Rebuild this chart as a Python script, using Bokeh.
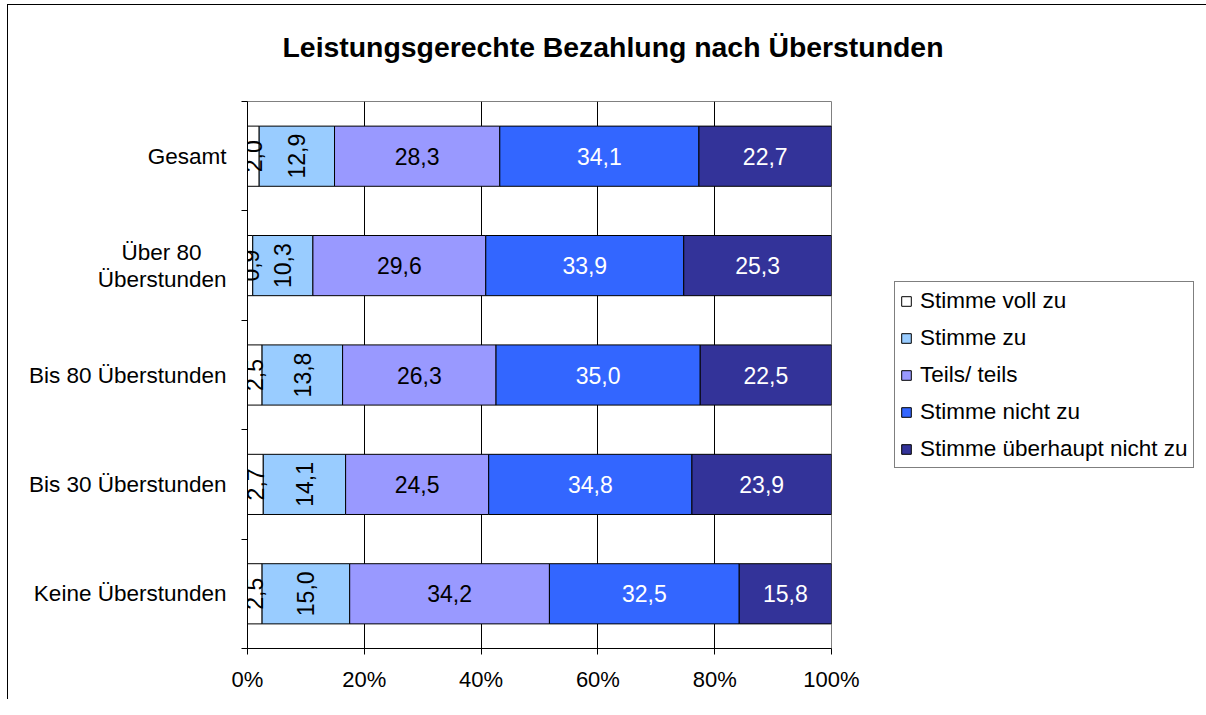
import math
from bokeh.plotting import figure
from bokeh.models import ColumnDataSource, Range1d, FixedTicker, Legend, LegendItem, Title
from bokeh.core.properties import value
from bokeh.embed import file_html
from bokeh.resources import INLINE

# ---------------- data ----------------
title_text = "Leistungsgerechte Bezahlung nach Überstunden"
categories = ["Gesamt", "Über 80\u00a0\u00a0\u00a0\u00a0\nÜberstunden", "Bis 80 Überstunden",
              "Bis 30 Überstunden", "Keine Überstunden"]
series = ["Stimme voll zu", "Stimme zu", "Teils/ teils",
          "Stimme nicht zu", "Stimme überhaupt nicht zu"]
stimme_voll_zu = [2.0, 0.9, 2.5, 2.7, 2.5]
stimme_zu = [12.9, 10.3, 13.8, 14.1, 15.0]
teils_teils = [28.3, 29.6, 26.3, 24.5, 34.2]
stimme_nicht_zu = [34.1, 33.9, 35.0, 34.8, 32.5]
stimme_ueberhaupt_nicht_zu = [22.7, 25.3, 22.5, 23.9, 15.8]
x_ticks = [0, 20, 40, 60, 80, 100]
x_tick_labels = ["0%", "20%", "40%", "60%", "80%", "100%"]

# ---------------- styles ----------------
colors = ["#FFFFFF", "#99CCFF", "#9999FF", "#3366FF", "#333399"]
label_colors = ["black", "black", "black", "white", "white"]
rotated = [True, True, False, False, False]
FONT = "Liberation Sans"
FS = "23px"

values = [stimme_voll_zu, stimme_zu, teils_teils, stimme_nicht_zu, stimme_ueberhaupt_nicht_zu]
n = len(categories)
ypos = [n - i - 0.5 for i in range(n)]
totals = [sum(v[i] for v in values) for i in range(n)]

data = {"y": ypos}
run = [0.0] * n
for j, vals in enumerate(values):
    left = [run[i] for i in range(n)]
    right = [run[i] + vals[i] / totals[i] * 100 for i in range(n)]
    data[f"l{j}"] = left
    data[f"r{j}"] = right
    data[f"c{j}"] = [(a + b) / 2 for a, b in zip(left, right)]
    data[f"t{j}"] = [f"{v:.1f}".replace(".", ",") for v in vals]
    run = right
src = ColumnDataSource(data)

p = figure(frame_width=584, frame_height=547,
           x_range=Range1d(0, 100), y_range=Range1d(0, n),
           output_backend="svg", toolbar_location=None,
           min_border_left=247, min_border_right=359,
           min_border_top=0, min_border_bottom=51)
p.styles = {
    "background-image": "linear-gradient(#000, #000), linear-gradient(#000, #000)",
    "background-size": "1px 2000px, 2000px 1px",
    "background-position": "left 7px top 4px, left 7px top 4px",
    "background-repeat": "no-repeat, no-repeat",
}
p.background_fill_color = "white"
p.border_fill_alpha = 0.0
p.outline_line_color = "#808080"
p.outline_line_width = 1

# grid
p.xgrid.ticker = FixedTicker(ticks=[20, 40, 60, 80])
p.xgrid.grid_line_color = "black"
p.xgrid.grid_line_width = 1
p.ygrid.visible = False

# x axis
p.xaxis.ticker = FixedTicker(ticks=x_ticks)
p.xaxis.major_label_overrides = {t: l for t, l in zip(x_ticks, x_tick_labels)}
p.xaxis.axis_line_color = "black"
p.xaxis.major_tick_line_color = "black"
p.xaxis.major_tick_out = 6
p.xaxis.major_tick_in = 0
p.xaxis.minor_tick_line_color = None
p.xaxis.major_label_standoff = 12
p.xaxis.major_label_text_font = FONT
p.xaxis.major_label_text_font_size = "22px"
p.xaxis.major_label_text_color = "black"

# y axis
p.yaxis.ticker = FixedTicker(ticks=ypos, minor_ticks=list(range(n + 1)))
p.yaxis.major_label_overrides = {y: c for y, c in zip(ypos, categories)}
p.yaxis.axis_line_color = "black"
p.yaxis.major_tick_line_color = None
p.yaxis.major_tick_out = 0
p.yaxis.major_tick_in = 0
p.yaxis.minor_tick_line_color = "black"
p.yaxis.minor_tick_out = 6
p.yaxis.minor_tick_in = 0
p.yaxis.major_label_standoff = 15
p.yaxis.major_label_text_font = FONT
p.yaxis.major_label_text_font_size = "22.5px"
p.yaxis.major_label_text_line_height = 1.08
p.yaxis.major_label_text_color = "black"

items = []
for j in range(len(series)):
    r = p.hbar(y="y", left=f"l{j}", right=f"r{j}", height=0.55, source=src,
               fill_color=colors[j], line_color="black", line_width=1)
    items.append(LegendItem(label=series[j], renderers=[r]))
for j in range(len(series)):
    p.text(x=f"c{j}", y="y", text=f"t{j}", source=src,
           angle=math.pi / 2 if rotated[j] else 0,
           text_align="center", text_baseline="middle",
           text_color=label_colors[j], text_font=value(FONT), text_font_size=FS)

legend = Legend(items=items, location=(63, 180), margin=0, padding=5,
                spacing=10, label_height=27, glyph_width=12, glyph_height=12,
                label_standoff=8, border_line_color="black", border_line_width=1,
                background_fill_color="white", background_fill_alpha=1.0,
                label_text_font=FONT, label_text_font_size="22.5px",
                label_text_color="black", click_policy="none")
p.add_layout(legend, "right")

# small spacer between title and frame, then the title itself
spacer = Title(text=" ", text_font_size="1px", standoff=3)
p.add_layout(spacer, "above")
title = Title(text=title_text, align="left", offset=35, vertical_align="top",
              standoff=61, text_font=FONT,
              text_font_size="28.4px", text_font_style="bold", text_color="black")
p.add_layout(title, "above")

open("out.html", "w").write(file_html(p, INLINE))
